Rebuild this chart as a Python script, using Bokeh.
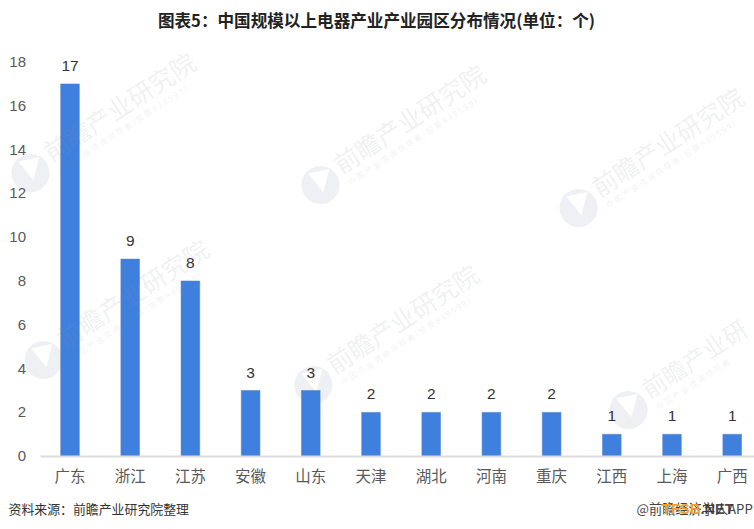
from bokeh.core.properties import value
from bokeh.embed import file_html
from bokeh.models import ColumnDataSource, FixedTicker, Label, LabelSet, LinearAxis, Range1d
from bokeh.plotting import figure
from bokeh.resources import INLINE
import math

# ---- data ----
provinces = ["广东", "浙江", "江苏", "安徽", "山东", "天津", "湖北", "河南", "重庆", "江西", "上海", "广西"]
park_counts = [17, 9, 8, 3, 3, 2, 2, 2, 2, 1, 1, 1]
y_ticks = [0, 2, 4, 6, 8, 10, 12, 14, 16, 18]
title_text = "图表5：中国规模以上电器产业产业园区分布情况(单位：个)"
source_text = "资料来源：前瞻产业研究院整理"
credit_text = "@前瞻经济学人APP"
stamp_orange = "TFSB"
stamp_dark = ".NET"
wm_main = "前瞻产业研究院"
wm_main_short = "前瞻产业研"
wm_sub = "中 国 产 业 咨 询 领 导 者 ( 股 票 8 3 9 5 9 9 )"
wm_sub_short = "中 国 产 业 咨 询 领 导 者"
# page-pixel centres of the watermark logos, and whether the text runs to the right edge
wm_logos = [(30, 173, False), (320, 185, False), (578, 208, False),
            (43, 360, False), (313, 385, False), (628, 410, True)]

CJK = "Noto Sans CJK SC"
LATIN = "Liberation Sans"
PAGE_LEFT, PAGE_TOP = 0, 0
W, H = 754, 529
UNIT_X, UNIT_Y = 60.2, 21.9      # pixels per category / per count
X0_PX, Y0_PX = 69.5, 455.7       # page pixel of category 0 and of count 0
AXIS_LEFT_PX = 39.5

xs = list(range(len(provinces)))
src = ColumnDataSource(dict(x=xs, y=park_counts, label=[str(v) for v in park_counts]))

x_start = (PAGE_LEFT - X0_PX) / UNIT_X
x_end = (PAGE_LEFT + W - X0_PX) / UNIT_X
y_end = (Y0_PX - PAGE_TOP) / UNIT_Y
y_start = (Y0_PX - PAGE_TOP - H) / UNIT_Y
x_axis_left = (AXIS_LEFT_PX - X0_PX) / UNIT_X

p = figure(width=W, height=H, output_backend="svg", toolbar_location=None,
           x_range=Range1d(x_start, x_end), y_range=Range1d(y_start, y_end),
           x_axis_location=None, y_axis_location=None,
           min_border_left=0, min_border_right=0, min_border_top=0, min_border_bottom=0)
p.outline_line_color = None
p.grid.visible = False
p.background_fill_color = "white"

p.vbar(x="x", top="y", width=0.31, bottom=0, source=src, fill_color="#3f80de", line_color="#4a7fc8", line_width=0.5)

p.add_layout(LabelSet(x="x", y="y", text="label", source=src, text_align="center", text_baseline="bottom",
                      y_offset=13, text_font=value(LATIN), text_font_size=value("15.5px"), text_color="#333333"))

xaxis = LinearAxis(fixed_location=0, bounds=(x_axis_left, x_end), ticker=FixedTicker(ticks=xs),
                   major_label_overrides={i: n for i, n in enumerate(provinces)},
                   major_label_text_font=CJK, major_label_text_font_size="15.5px",
                   major_label_text_color="#595959", major_label_standoff=2,
                   major_tick_line_color=None, minor_tick_line_color=None,
                   axis_line_color="#dddddd", axis_line_width=2)
p.add_layout(xaxis, "below")

yaxis = LinearAxis(fixed_location=x_axis_left, ticker=FixedTicker(ticks=y_ticks),
                   major_label_text_font=LATIN, major_label_text_font_size="15px",
                   major_label_text_color="#595959", major_label_standoff=8,
                   major_tick_line_color=None, minor_tick_line_color=None, axis_line_color=None)
p.add_layout(yaxis, "left")


def text_at(px, py, text, **kw):
    kw.setdefault("text_baseline", "middle")
    p.add_layout(Label(x=px - PAGE_LEFT, y=PAGE_TOP + H - py, x_units="screen", y_units="screen", text=text, **kw))


ANGLE = math.radians(33)
for lx, ly, short in wm_logos:
    text_at(lx, ly - 5, "●", text_align="center", text_font="DejaVu Sans", text_font_size="50px",
            text_color="#eef0f3", level="underlay")
    text_at(lx, ly - 6, "▼", text_align="center", text_font="DejaVu Sans", text_font_size="28px",
            text_color="white", angle=math.radians(12), level="underlay")
    text_at(lx + 15, ly - 20, wm_main_short if short else wm_main, text_font=CJK,
            text_font_size="24px" if short else "25px", text_color="#8a8f96", text_alpha=0.14, angle=ANGLE)
    text_at(lx + 28, ly - 3, wm_sub_short if short else wm_sub, text_font=CJK, text_font_size="8px",
            text_color="#8a8f96", text_alpha=0.14, angle=ANGLE)

text_at(376, 19.5, title_text, text_align="center", text_font=CJK, text_font_size="16.6px",
        text_font_style="bold", text_color="#222222")
text_at(8, 508, source_text, text_font=CJK, text_font_size="12.9px", text_color="#333333")
text_at(636, 508, credit_text, text_font=CJK, text_font_size="13.2px", text_color="#444444")
text_at(661, 508, stamp_orange, text_font=LATIN, text_font_size="15px", text_font_style="bold",
        text_color="#f0a030", text_alpha=1)
text_at(700, 508, stamp_dark, text_font=LATIN, text_font_size="14.5px", text_font_style="bold",
        text_color="#333333", text_alpha=0.9)

open("out.html", "w").write(file_html(p, INLINE))
